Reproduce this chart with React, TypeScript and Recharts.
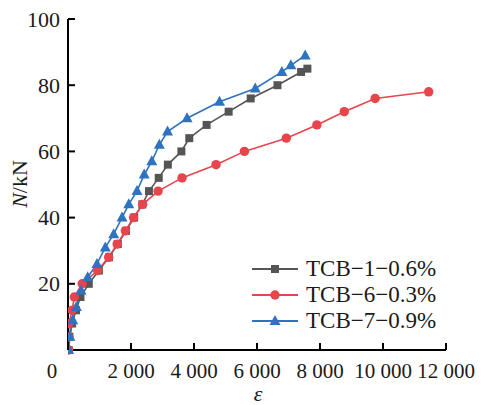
import { LineChart, Line, XAxis, YAxis } from "recharts";

// TCB-1-0.6%
const epsTcb1 = [20, 45, 130, 255, 395, 660, 980, 1300, 1580, 1840, 2100, 2360, 2570, 2880, 3170, 3600, 3850, 4400, 5100, 5800, 6650, 7400, 7600];
const nTcb1 = [0, 4, 8, 12, 16, 20, 24, 28, 32, 36, 40, 44, 48, 52, 56, 60, 64, 68, 72, 76, 80, 84, 85];

// TCB-6-0.3%
const epsTcb6 = [20, 20, 30, 130, 200, 450, 940, 1290, 1560, 1820, 2080, 2370, 2860, 3620, 4700, 5600, 6930, 7900, 8770, 9750, 11450];
const nTcb6 = [0, 4, 8, 12, 16, 20, 24, 28, 32, 36, 40, 44, 48, 52, 56, 60, 64, 68, 72, 76, 78];

// TCB-7-0.9%
const epsTcb7 = [20, 60, 150, 265, 415, 625, 920, 1185, 1450, 1715, 1930, 2190, 2420, 2660, 2900, 3160, 3780, 4810, 5945, 6790, 7075, 7530];
const nTcb7 = [0, 4, 9, 13, 18, 22, 26, 31, 35, 40, 44, 48, 53, 57, 62, 66, 70, 75, 79, 84, 86, 89];

const xTicks = [0, 2000, 4000, 6000, 8000, 10000, 12000];
const yTicks = [0, 20, 40, 60, 80, 100];

const seriesNames = ["TCB\u22121\u22120.6%", "TCB\u22126\u22120.3%", "TCB\u22127\u22120.9%"];

const GRAY = "#555555";
const RED = "#e8444b";
const BLUE = "#2f72c0";
const FONT = '"Liberation Serif", "Times New Roman", serif';

const toRows = (eps: number[], n: number[]) => eps.map((e, i) => ({ eps: e, n: n[i] }));

function fmt(v: number) {
  if (v < 1000) return String(v);
  return `${Math.floor(v / 1000)} ${String(v % 1000).padStart(3, "0")}`;
}

function XTick(props: any) {
  const { x, y, payload } = props;
  const v = payload.value;
  return (
    <g>
      <line x1={x} x2={x} y1={y} y2={y - 7} stroke="#000" strokeWidth={2} />
      <text
        x={v === 0 ? x - 16 : x}
        y={y + 21}
        textAnchor="middle"
        dominantBaseline="central"
        fontSize={21}
        fontFamily={FONT}
        fill="#1a1a1a"
      >
        {fmt(v)}
      </text>
    </g>
  );
}

function YTick(props: any) {
  const { x, y, payload } = props;
  const v = payload.value;
  if (v === 0) return <g />;
  return (
    <g>
      <line x1={x} x2={x + 7} y1={y} y2={y} stroke="#000" strokeWidth={2} />
      <text
        x={x - 8}
        y={y}
        textAnchor="end"
        dominantBaseline="central"
        fontSize={22}
        fontFamily={FONT}
        fill="#1a1a1a"
      >
        {v}
      </text>
    </g>
  );
}

const squareDot = (p: any) => (
  <rect key={`sq-${p.index}`} x={p.cx - 4} y={p.cy - 4} width={8} height={8} fill={GRAY} />
);
const circleDot = (p: any) => (
  <circle key={`ci-${p.index}`} cx={p.cx} cy={p.cy} r={4.7} fill={RED} />
);
const triangleDot = (p: any) => (
  <path
    key={`tr-${p.index}`}
    d={`M${p.cx},${p.cy - 6} L${p.cx + 5.5},${p.cy + 4} L${p.cx - 5.5},${p.cy + 4} Z`}
    fill={BLUE}
  />
);

function LegendMarker({ i }: { i: number }) {
  const color = [GRAY, RED, BLUE][i];
  return (
    <svg width={48} height={14} style={{ display: "block" }}>
      <line x1={0} x2={46} y1={7} y2={7} stroke={color} strokeWidth={2} />
      {i === 0 && <rect x={19} y={3} width={8} height={8} fill={color} />}
      {i === 1 && <circle cx={23} cy={7} r={4.7} fill={color} />}
      {i === 2 && <path d="M23,1 L28.5,11 L17.5,11 Z" fill={color} />}
    </svg>
  );
}

export default function App() {
  return (
    <div style={{ position: "absolute", left: 0, top: 0, width: 481, height: 405, background: "#fff" }}>
      <LineChart width={481} height={405} margin={{ top: 19, right: 35, bottom: 25, left: 28 }}>
        <XAxis
          type="number"
          dataKey="eps"
          domain={[0, 12000]}
          ticks={xTicks}
          allowDataOverflow
          height={30}
          tickSize={0}
          tickMargin={0}
          tickLine={false}
          tick={<XTick />}
          axisLine={{ stroke: "#000", strokeWidth: 2 }}
        />
        <YAxis
          type="number"
          dataKey="n"
          domain={[0, 100]}
          ticks={yTicks}
          width={40}
          tickSize={0}
          tickMargin={0}
          tickLine={false}
          tick={<YTick />}
          axisLine={{ stroke: "#000", strokeWidth: 2 }}
        />
        <Line data={toRows(epsTcb1, nTcb1)} dataKey="n" stroke={GRAY} strokeWidth={1.6} dot={squareDot} activeDot={false} isAnimationActive={false} />
        <Line data={toRows(epsTcb6, nTcb6)} dataKey="n" stroke={RED} strokeWidth={1.6} dot={circleDot} activeDot={false} isAnimationActive={false} />
        <Line data={toRows(epsTcb7, nTcb7)} dataKey="n" stroke={BLUE} strokeWidth={1.6} dot={triangleDot} activeDot={false} isAnimationActive={false} />
      </LineChart>

      <div
        style={{
          position: "absolute",
          left: 20,
          top: 184,
          transform: "translate(-50%, -50%) rotate(-90deg)",
          fontFamily: FONT,
          fontSize: 22,
          color: "#1a1a1a",
          whiteSpace: "nowrap",
        }}
      >
        <i>N</i>/kN
      </div>
      <div
        style={{
          position: "absolute",
          left: 258,
          top: 394,
          transform: "translate(-50%, -50%)",
          fontFamily: FONT,
          fontSize: 22,
          fontStyle: "italic",
          color: "#1a1a1a",
        }}
      >
        ε
      </div>

      <div style={{ position: "absolute", left: 252, top: 256, fontFamily: FONT, fontSize: 23, color: "#1a1a1a" }}>
        {seriesNames.map((name, i) => (
          <div key={name} style={{ display: "flex", alignItems: "center", height: 26 }}>
            <LegendMarker i={i} />
            <span style={{ marginLeft: 6, lineHeight: "26px" }}>{name}</span>
          </div>
        ))}
      </div>
    </div>
  );
}
